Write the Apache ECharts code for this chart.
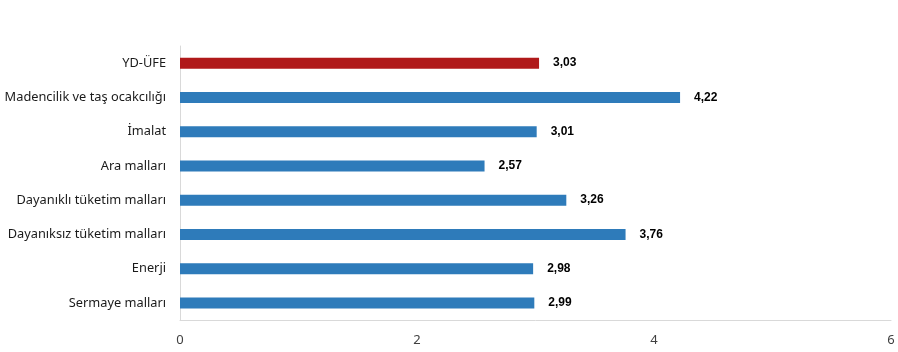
<!DOCTYPE html>
<html><head><meta charset="utf-8">
<script src="https://cdn.jsdelivr.net/npm/echarts@6/dist/echarts.min.js"></script>
<style>html,body{margin:0;padding:0;background:#fff}#c{width:898px;height:352px}</style>
</head><body><div id="c"></div>
<script>
const categories = ["YD-ÜFE","Madencilik ve taş ocakcılığı","İmalat","Ara malları","Dayanıklı tüketim malları","Dayanıksız tüketim malları","Enerji","Sermaye malları"];
const values = [3.03,4.22,3.01,2.57,3.26,3.76,2.98,2.99];
const xTicks = [0,2,4,6];
const colors = ["#B0191A","#2E7BBA","#2E7BBA","#2E7BBA","#2E7BBA","#2E7BBA","#2E7BBA","#2E7BBA"];

const chart = echarts.init(document.getElementById('c'));
chart.setOption({
  animation:false,
  grid:{left:180,right:7,top:46,bottom:32,containLabel:false},
  xAxis:{type:'value',min:0,max:6,interval:2,
    axisLine:{show:true,lineStyle:{color:'#d9d9d9'}},
    axisTick:{show:false},splitLine:{show:false},
    axisLabel:{color:'#404040',fontFamily:'Noto Sans',fontSize:13,margin:14,
      formatter:v=>xTicks.includes(v)?String(v):''}},
  yAxis:{type:'category',inverse:true,data:categories,
    axisLine:{show:true,lineStyle:{color:'#d9d9d9'}},
    axisTick:{show:false},
    axisLabel:{color:'#1a1a1a',fontFamily:'Noto Sans',fontSize:12.8,margin:14}},
  series:[{type:'bar',barWidth:11,
    data:values.map((v,i)=>({value:v,itemStyle:{color:colors[i]}})),
    label:{show:true,position:'right',distance:14,color:'#000',fontFamily:'Liberation Sans',fontWeight:'bold',fontSize:12,
      formatter:p=>p.value.toFixed(2).replace('.',',')}}]
});
</script></body></html>
